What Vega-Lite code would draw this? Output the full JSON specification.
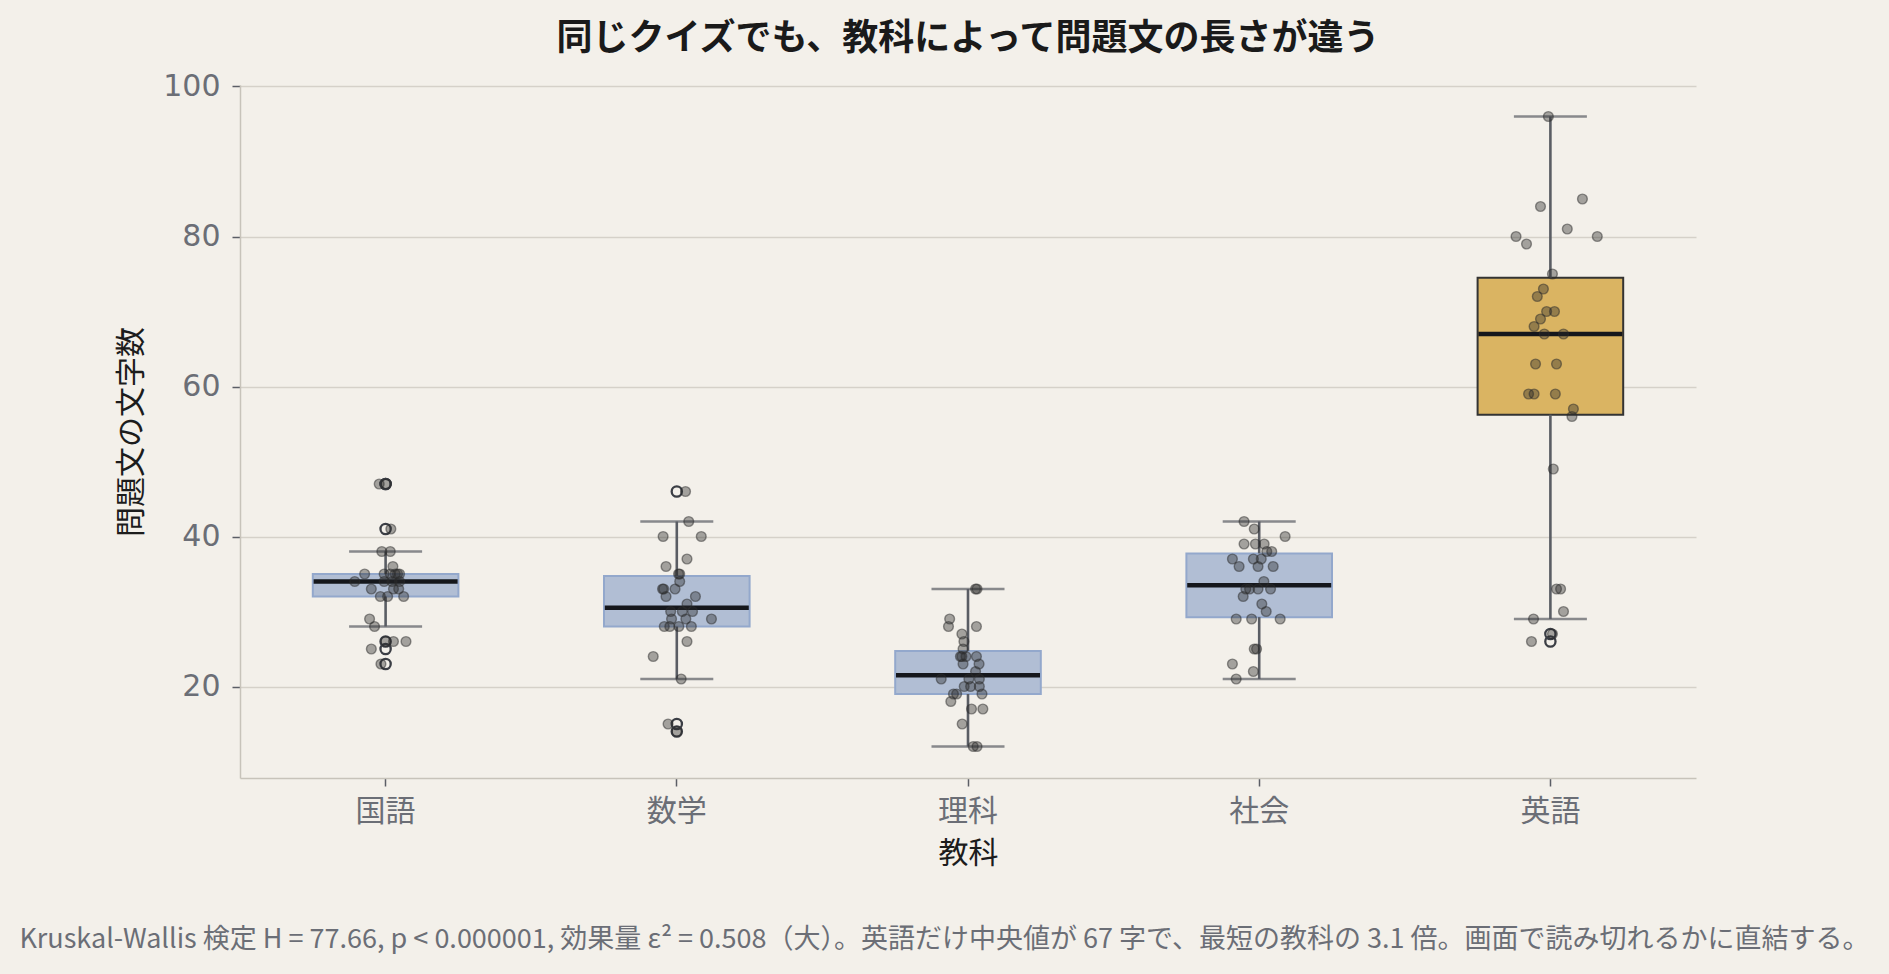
{
  "$schema": "https://vega.github.io/schema/vega-lite/v6.json",
  "autosize": {"type": "none"},
  "width": 1456,
  "height": 693,
  "padding": {"left": 240, "top": 85, "right": 193, "bottom": 196},
  "title": {
    "text": "同じクイズでも、教科によって問題文の長さが違う",
    "fontSize": 36, "fontWeight": "bold", "color": "#1a1a1a",
    "anchor": "middle", "offset": 14
  },
  "datasets": {
    "boxes": [
      {"subject": "国語", "lo": 28, "q1": 32, "median": 34, "q3": 35, "hi": 38},
      {"subject": "数学", "lo": 21, "q1": 28, "median": 30.5, "q3": 34.75, "hi": 42},
      {"subject": "理科", "lo": 12, "q1": 19, "median": 21.5, "q3": 24.75, "hi": 33},
      {"subject": "社会", "lo": 21, "q1": 29.25, "median": 33.5, "q3": 37.75, "hi": 42},
      {"subject": "英語", "lo": 29, "q1": 56.25, "median": 67, "q3": 74.5, "hi": 96}
    ],
    "outliers": [
      {"subject": "国語", "value": 47}, {"subject": "国語", "value": 47},
      {"subject": "国語", "value": 41}, {"subject": "国語", "value": 26},
      {"subject": "国語", "value": 25}, {"subject": "国語", "value": 23},
      {"subject": "数学", "value": 46}, {"subject": "数学", "value": 15},
      {"subject": "数学", "value": 14},
      {"subject": "英語", "value": 27}, {"subject": "英語", "value": 26}
    ],
    "points": [
      {"subject": "国語", "value": 47, "jitter": -0.022},
      {"subject": "国語", "value": 47, "jitter": 0.002},
      {"subject": "国語", "value": 41, "jitter": 0.018},
      {"subject": "国語", "value": 38, "jitter": -0.013},
      {"subject": "国語", "value": 38, "jitter": 0.016},
      {"subject": "国語", "value": 36, "jitter": 0.025},
      {"subject": "国語", "value": 35, "jitter": -0.072},
      {"subject": "国語", "value": 35, "jitter": 0.033},
      {"subject": "国語", "value": 35, "jitter": 0.048},
      {"subject": "国語", "value": 35, "jitter": 0.016},
      {"subject": "国語", "value": 35, "jitter": -0.005},
      {"subject": "国語", "value": 35, "jitter": 0.041},
      {"subject": "国語", "value": 34, "jitter": -0.106},
      {"subject": "国語", "value": 34, "jitter": -0.005},
      {"subject": "国語", "value": 34, "jitter": 0.048},
      {"subject": "国語", "value": 34, "jitter": 0.022},
      {"subject": "国語", "value": 33, "jitter": -0.049},
      {"subject": "国語", "value": 33, "jitter": 0.045},
      {"subject": "国語", "value": 33, "jitter": 0.027},
      {"subject": "国語", "value": 32, "jitter": -0.018},
      {"subject": "国語", "value": 32, "jitter": 0.007},
      {"subject": "国語", "value": 32, "jitter": 0.062},
      {"subject": "国語", "value": 29, "jitter": -0.055},
      {"subject": "国語", "value": 28, "jitter": -0.038},
      {"subject": "国語", "value": 26, "jitter": 0.001},
      {"subject": "国語", "value": 26, "jitter": 0.027},
      {"subject": "国語", "value": 26, "jitter": 0.070},
      {"subject": "国語", "value": 25, "jitter": -0.049},
      {"subject": "国語", "value": 23, "jitter": -0.016},

      {"subject": "数学", "value": 46, "jitter": 0.030},
      {"subject": "数学", "value": 42, "jitter": 0.041},
      {"subject": "数学", "value": 40, "jitter": -0.047},
      {"subject": "数学", "value": 40, "jitter": 0.084},
      {"subject": "数学", "value": 37, "jitter": 0.035},
      {"subject": "数学", "value": 36, "jitter": -0.037},
      {"subject": "数学", "value": 35, "jitter": 0.010},
      {"subject": "数学", "value": 35, "jitter": 0.006},
      {"subject": "数学", "value": 34, "jitter": 0.010},
      {"subject": "数学", "value": 33, "jitter": -0.049},
      {"subject": "数学", "value": 33, "jitter": -0.045},
      {"subject": "数学", "value": 33, "jitter": -0.006},
      {"subject": "数学", "value": 32, "jitter": -0.037},
      {"subject": "数学", "value": 32, "jitter": 0.064},
      {"subject": "数学", "value": 31, "jitter": 0.035},
      {"subject": "数学", "value": 30, "jitter": -0.021},
      {"subject": "数学", "value": 30, "jitter": 0.054},
      {"subject": "数学", "value": 30, "jitter": 0.019},
      {"subject": "数学", "value": 29, "jitter": -0.018},
      {"subject": "数学", "value": 29, "jitter": 0.031},
      {"subject": "数学", "value": 29, "jitter": 0.119},
      {"subject": "数学", "value": 28, "jitter": -0.043},
      {"subject": "数学", "value": 28, "jitter": -0.024},
      {"subject": "数学", "value": 28, "jitter": 0.007},
      {"subject": "数学", "value": 28, "jitter": 0.050},
      {"subject": "数学", "value": 26, "jitter": 0.035},
      {"subject": "数学", "value": 24, "jitter": -0.081},
      {"subject": "数学", "value": 21, "jitter": 0.015},
      {"subject": "数学", "value": 15, "jitter": -0.030},
      {"subject": "数学", "value": 14, "jitter": 0.000},

      {"subject": "理科", "value": 33, "jitter": 0.026},
      {"subject": "理科", "value": 33, "jitter": 0.031},
      {"subject": "理科", "value": 29, "jitter": -0.063},
      {"subject": "理科", "value": 28, "jitter": -0.067},
      {"subject": "理科", "value": 28, "jitter": 0.029},
      {"subject": "理科", "value": 27, "jitter": -0.021},
      {"subject": "理科", "value": 26, "jitter": -0.014},
      {"subject": "理科", "value": 25, "jitter": -0.017},
      {"subject": "理科", "value": 24, "jitter": -0.021},
      {"subject": "理科", "value": 24, "jitter": -0.026},
      {"subject": "理科", "value": 24, "jitter": -0.007},
      {"subject": "理科", "value": 24, "jitter": 0.029},
      {"subject": "理科", "value": 23, "jitter": -0.017},
      {"subject": "理科", "value": 23, "jitter": 0.038},
      {"subject": "理科", "value": 22, "jitter": 0.026},
      {"subject": "理科", "value": 21, "jitter": -0.092},
      {"subject": "理科", "value": 21, "jitter": 0.039},
      {"subject": "理科", "value": 21, "jitter": 0.003},
      {"subject": "理科", "value": 20, "jitter": -0.013},
      {"subject": "理科", "value": 20, "jitter": 0.009},
      {"subject": "理科", "value": 20, "jitter": 0.039},
      {"subject": "理科", "value": 19, "jitter": -0.050},
      {"subject": "理科", "value": 19, "jitter": 0.048},
      {"subject": "理科", "value": 19, "jitter": -0.039},
      {"subject": "理科", "value": 18, "jitter": -0.059},
      {"subject": "理科", "value": 17, "jitter": 0.012},
      {"subject": "理科", "value": 17, "jitter": 0.051},
      {"subject": "理科", "value": 15, "jitter": -0.020},
      {"subject": "理科", "value": 12, "jitter": 0.018},
      {"subject": "理科", "value": 12, "jitter": 0.031},

      {"subject": "社会", "value": 42, "jitter": -0.052},
      {"subject": "社会", "value": 41, "jitter": -0.017},
      {"subject": "社会", "value": 40, "jitter": 0.089},
      {"subject": "社会", "value": 39, "jitter": -0.052},
      {"subject": "社会", "value": 39, "jitter": -0.013},
      {"subject": "社会", "value": 39, "jitter": 0.017},
      {"subject": "社会", "value": 38, "jitter": 0.026},
      {"subject": "社会", "value": 38, "jitter": 0.043},
      {"subject": "社会", "value": 37, "jitter": -0.092},
      {"subject": "社会", "value": 37, "jitter": -0.020},
      {"subject": "社会", "value": 37, "jitter": 0.007},
      {"subject": "社会", "value": 36, "jitter": -0.069},
      {"subject": "社会", "value": 36, "jitter": -0.004},
      {"subject": "社会", "value": 36, "jitter": 0.048},
      {"subject": "社会", "value": 34, "jitter": 0.016},
      {"subject": "社会", "value": 33, "jitter": -0.046},
      {"subject": "社会", "value": 33, "jitter": -0.033},
      {"subject": "社会", "value": 33, "jitter": -0.004},
      {"subject": "社会", "value": 33, "jitter": 0.039},
      {"subject": "社会", "value": 32, "jitter": -0.055},
      {"subject": "社会", "value": 31, "jitter": 0.009},
      {"subject": "社会", "value": 30, "jitter": 0.024},
      {"subject": "社会", "value": 29, "jitter": -0.079},
      {"subject": "社会", "value": 29, "jitter": -0.026},
      {"subject": "社会", "value": 29, "jitter": 0.072},
      {"subject": "社会", "value": 25, "jitter": -0.017},
      {"subject": "社会", "value": 25, "jitter": -0.009},
      {"subject": "社会", "value": 23, "jitter": -0.092},
      {"subject": "社会", "value": 22, "jitter": -0.020},
      {"subject": "社会", "value": 21, "jitter": -0.079},

      {"subject": "英語", "value": 96, "jitter": -0.007},
      {"subject": "英語", "value": 85, "jitter": 0.110},
      {"subject": "英語", "value": 84, "jitter": -0.034},
      {"subject": "英語", "value": 81, "jitter": 0.058},
      {"subject": "英語", "value": 80, "jitter": -0.118},
      {"subject": "英語", "value": 80, "jitter": 0.161},
      {"subject": "英語", "value": 79, "jitter": -0.082},
      {"subject": "英語", "value": 75, "jitter": 0.007},
      {"subject": "英語", "value": 73, "jitter": -0.024},
      {"subject": "英語", "value": 72, "jitter": -0.045},
      {"subject": "英語", "value": 70, "jitter": -0.013},
      {"subject": "英語", "value": 70, "jitter": 0.014},
      {"subject": "英語", "value": 69, "jitter": -0.034},
      {"subject": "英語", "value": 68, "jitter": -0.056},
      {"subject": "英語", "value": 67, "jitter": -0.021},
      {"subject": "英語", "value": 67, "jitter": 0.045},
      {"subject": "英語", "value": 63, "jitter": -0.051},
      {"subject": "英語", "value": 63, "jitter": 0.021},
      {"subject": "英語", "value": 59, "jitter": -0.075},
      {"subject": "英語", "value": 59, "jitter": -0.056},
      {"subject": "英語", "value": 59, "jitter": 0.017},
      {"subject": "英語", "value": 57, "jitter": 0.079},
      {"subject": "英語", "value": 56, "jitter": 0.074},
      {"subject": "英語", "value": 49, "jitter": 0.010},
      {"subject": "英語", "value": 33, "jitter": 0.021},
      {"subject": "英語", "value": 33, "jitter": 0.035},
      {"subject": "英語", "value": 30, "jitter": 0.045},
      {"subject": "英語", "value": 29, "jitter": -0.058},
      {"subject": "英語", "value": 27, "jitter": 0.007},
      {"subject": "英語", "value": 26, "jitter": -0.065}
    ]
  },
  "layer": [
    {
      "data": {"name": "boxes"},
      "mark": {"type": "bar", "strokeWidth": 2},
      "encoding": {
        "x": {
          "field": "subject", "type": "nominal", "sort": ["国語", "数学", "理科", "社会", "英語"],
          "bandPosition": 0.25,
          "scale": {"type": "band", "paddingInner": 0, "paddingOuter": 0},
          "title": "教科",
          "axis": {"labelAngle": 0, "labelPadding": 10, "titlePadding": 12}
        },
        "x2": {"field": "subject", "bandPosition": 0.75},
        "y": {"field": "q1", "type": "quantitative", "title": "問題文の文字数",
              "scale": {"domain": [7.8, 100.2], "nice": false, "zero": false},
              "axis": {"values": [20, 40, 60, 80, 100]}},
        "y2": {"field": "q3"},
        "fill": {"field": "subject", "type": "nominal", "legend": null,
                 "scale": {"domain": ["国語", "数学", "理科", "社会", "英語"],
                           "range": ["#b1bed4", "#b1bed4", "#b1bed4", "#b1bed4", "#dab462"]}},
        "stroke": {"field": "subject", "type": "nominal", "legend": null,
                   "scale": {"domain": ["国語", "数学", "理科", "社会", "英語"],
                             "range": ["#93a8cc", "#93a8cc", "#93a8cc", "#93a8cc", "#333333"]}}
      }
    },
    {
      "data": {"name": "boxes"},
      "mark": {"type": "rule", "color": "#5a5d64", "strokeWidth": 2.6},
      "encoding": {
        "x": {"field": "subject", "type": "nominal", "sort": ["国語", "数学", "理科", "社会", "英語"], "scale": {"type": "band"}, "axis": null},
        "y": {"field": "lo", "type": "quantitative", "title": "問題文の文字数"},
        "y2": {"field": "q1"}
      }
    },
    {
      "data": {"name": "boxes"},
      "mark": {"type": "rule", "color": "#5a5d64", "strokeWidth": 2.6},
      "encoding": {
        "x": {"field": "subject", "type": "nominal", "sort": ["国語", "数学", "理科", "社会", "英語"], "scale": {"type": "band"}, "axis": null},
        "y": {"field": "q3", "type": "quantitative", "title": "問題文の文字数"},
        "y2": {"field": "hi"}
      }
    },
    {
      "data": {"name": "boxes"},
      "mark": {"type": "tick", "color": "#5a5d64", "size": 73, "thickness": 2.6},
      "encoding": {
        "x": {"field": "subject", "type": "nominal", "sort": ["国語", "数学", "理科", "社会", "英語"], "scale": {"type": "band"}, "axis": null},
        "y": {"field": "lo", "type": "quantitative", "title": "問題文の文字数"}
      }
    },
    {
      "data": {"name": "boxes"},
      "mark": {"type": "tick", "color": "#5a5d64", "size": 73, "thickness": 2.6},
      "encoding": {
        "x": {"field": "subject", "type": "nominal", "sort": ["国語", "数学", "理科", "社会", "英語"], "scale": {"type": "band"}, "axis": null},
        "y": {"field": "hi", "type": "quantitative", "title": "問題文の文字数"}
      }
    },
    {
      "data": {"name": "boxes"},
      "mark": {"type": "tick", "color": "#15171c", "size": 144, "thickness": 4.5, "opacity": 1},
      "encoding": {
        "x": {"field": "subject", "type": "nominal", "sort": ["国語", "数学", "理科", "社会", "英語"], "scale": {"type": "band"}, "axis": null},
        "y": {"field": "median", "type": "quantitative", "title": "問題文の文字数"}
      }
    },
    {
      "data": {"name": "outliers"},
      "mark": {"type": "point", "shape": "circle", "filled": false, "size": 105, "stroke": "#3b3e45", "strokeWidth": 2.3, "opacity": 1},
      "encoding": {
        "x": {"field": "subject", "type": "nominal", "sort": ["国語", "数学", "理科", "社会", "英語"], "scale": {"type": "band"}, "axis": null},
        "y": {"field": "value", "type": "quantitative", "title": "問題文の文字数"}
      }
    },
    {
      "data": {"name": "points"},
      "mark": {"type": "circle", "size": 95, "fill": "#2b2b2b", "fillOpacity": 0.4, "stroke": "#2b2b2b", "strokeOpacity": 0.5, "strokeWidth": 1.4},
      "encoding": {
        "x": {
          "field": "subject", "type": "nominal", "sort": ["国語", "数学", "理科", "社会", "英語"], "scale": {"type": "band"},
          "axis": {
            "title": "Kruskal-Wallis 検定 H = 77.66, p < 0.000001, 効果量 ε² = 0.508（大）。英語だけ中央値が 67 字で、最短の教科の 3.1 倍。画面で読み切れるかに直結する。",
            "labels": false, "ticks": false, "domain": false, "grid": false,
            "titleFontSize": 27, "titleColor": "#6b6e76",
            "titleX": 704, "titleY": 854, "titleAlign": "center", "titleBaseline": "middle"
          }
        },
        "xOffset": {"field": "jitter", "type": "quantitative", "scale": {"domain": [-0.5, 0.5], "zero": false, "nice": false}},
        "y": {"field": "value", "type": "quantitative", "title": "問題文の文字数"}
      }
    }
  ],
  "resolve": {"axis": {"x": "independent"}},
  "config": {
    "background": "#f3f0ea",
    "font": "Noto Sans CJK JP",
    "view": {"stroke": null},
    "title": {"font": "Noto Sans CJK JP"},
    "axis": {
      "domainColor": "#c7c3ba", "domainWidth": 1.5,
      "tickColor": "#5b5e66", "tickSize": 8, "tickWidth": 1.5,
      "labelFont": "Noto Sans CJK JP", "labelFontSize": 30, "labelColor": "#6b6e76",
      "titleFont": "Noto Sans CJK JP", "titleFontSize": 30, "titleColor": "#1c1c1c", "titleFontWeight": "normal"
    },
    "axisX": {"grid": false},
    "axisY": {
      "grid": true, "gridColor": "#d5d1c9", "gridWidth": 1.3,
      "labelFont": "DejaVu Sans", "labelFontSize": 30,
      "labelPadding": 12, "titlePadding": 16
    }
  }
}
